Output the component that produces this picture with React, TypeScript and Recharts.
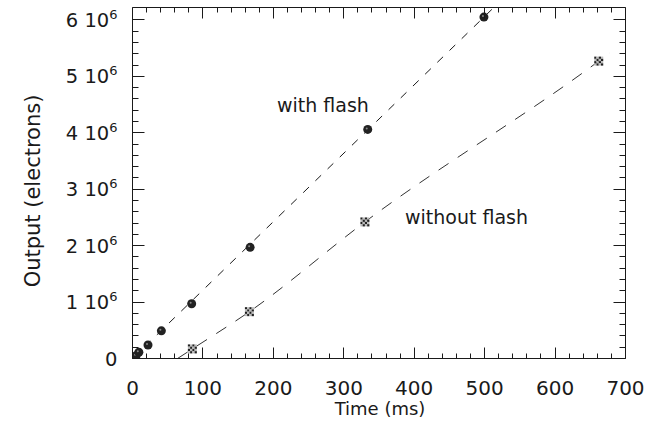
import { ComposedChart, Scatter, Line, XAxis, YAxis } from 'recharts'

// measured points, time in ms, output in electrons
const withFlashT = [2, 5, 9, 22, 41, 84, 167, 334, 499]
const withFlashE = [0.02e6, 0.05e6, 0.11e6, 0.24e6, 0.49e6, 0.97e6, 1.97e6, 4.06e6, 6.05e6]
const withoutFlashT = [85, 166, 330, 662]
const withoutFlashE = [0.17e6, 0.83e6, 2.42e6, 5.27e6]

// fitted curves
const withFitT = [0, 513]
const withFitE = [0, 6.22e6]
const withoutFitT = [64, 85, 166, 330, 662, 677]
const withoutFitE = [0, 0.17e6, 0.83e6, 2.42e6, 5.27e6, 5.41e6]

const xTicks = Array.from({ length: 36 }, (_, i) => i * 20)
const yTicks = Array.from({ length: 31 }, (_, i) => i * 0.2e6)

const zip = (t: number[], e: number[]) => t.map((v, i) => ({ t: v, e: e[i] }))
const withFlash = zip(withFlashT, withFlashE)
const withoutFlash = zip(withoutFlashT, withoutFlashE)
const withFit = zip(withFitT, withFitE)
const withoutFit = zip(withoutFitT, withoutFitE)

const FONT = '"DejaVu Sans", sans-serif'
const INK = '#1a1a1a'

const isMajorX = (v: number) => v % 100 === 0
const isMajorY = (v: number) => Math.round(v / 0.2e6) % 5 === 0
// snap to the pixel centre so 1px tick marks stay sharp
const crisp = (v: number) => Math.round(v - 0.5) + 0.5

function bottomTick(props: any) {
  const { x, y, payload } = props
  const major = isMajorX(payload.value)
  const cx = crisp(x)
  return (
    <g key={`b-${payload.value}`}>
      <path d={`M${cx},${y}V${y - (major ? 11 : 5)}`} stroke={INK} strokeWidth={1} fill="none" />
      {major && (
        <text x={x} y={y + 36} textAnchor="middle" fontSize={20} fontFamily={FONT} fill={INK}>
          {payload.value}
        </text>
      )}
    </g>
  )
}

function topTick(props: any) {
  const { x, y, payload } = props
  const major = isMajorX(payload.value)
  const cx = crisp(x)
  return (
    <path key={`t-${payload.value}`} d={`M${cx},${y}V${y + (major ? 11 : 5)}`}
      stroke={INK} strokeWidth={1} fill="none" />
  )
}

function leftTick(props: any) {
  const { x, y, payload } = props
  const v = payload.value
  const major = isMajorY(v)
  const n = Math.round(v / 1e6)
  const cy = crisp(y)
  return (
    <g key={`l-${v}`}>
      <path d={`M${x},${cy}H${x + (major ? 12 : 6)}`} stroke={INK} strokeWidth={1} fill="none" />
      {major && (
        <text x={x - 15} y={y + 7} textAnchor="end" fontSize={19.5} fontFamily={FONT} fill={INK}>
          {n === 0 ? '0' : `${n} 10`}
          {n !== 0 && <tspan fontSize={13} dy={-8}>6</tspan>}
        </text>
      )}
    </g>
  )
}

function rightTick(props: any) {
  const { x, y, payload } = props
  const major = isMajorY(payload.value)
  const cy = crisp(y)
  return (
    <path key={`r-${payload.value}`} d={`M${x},${cy}H${x - (major ? 12 : 6)}`}
      stroke={INK} strokeWidth={1} fill="none" />
  )
}

function Dot({ cx, cy }: any) {
  return (
    <g>
      <circle cx={cx} cy={cy} r={4.5} fill="#222" />
      <circle cx={cx - 1} cy={cy - 1} r={1} fill="#888" />
    </g>
  )
}

function Checker({ cx, cy }: any) {
  const cells = []
  for (let i = 0; i < 4; i++) {
    for (let j = 0; j < 4; j++) {
      cells.push(
        <rect key={`${i}-${j}`} x={cx - 4.5 + i * 2.25} y={cy - 4.5 + j * 2.25} width={2.25} height={2.25}
          fill={(i + j) % 2 === 0 ? '#222' : '#bbb'} />
      )
    }
  }
  return <g>{cells}</g>
}

export default function App() {
  return (
    <div style={{ position: 'absolute', left: 0, top: 0, background: '#fff' }}>
      <ComposedChart width={663} height={425} margin={{ top: 6.5, right: 36.5, bottom: 0, left: 0 }}>
        <XAxis dataKey="t" type="number" domain={[0, 700]} ticks={xTicks} interval={0} allowDataOverflow
          height={66.5} tickSize={0} tickMargin={0} tickLine={false} tick={bottomTick} stroke={INK} />
        <XAxis xAxisId="top" orientation="top" dataKey="t" type="number" domain={[0, 700]} allowDataOverflow
          ticks={xTicks} interval={0} height={1} tickSize={0} tickMargin={0} tickLine={false} tick={topTick} stroke={INK} />
        <YAxis dataKey="e" type="number" domain={[0, 6.22e6]} ticks={yTicks} interval={0} allowDataOverflow
          width={132.5} tickSize={0} tickMargin={0} tickLine={false} tick={leftTick} stroke={INK} />
        <YAxis yAxisId="right" orientation="right" dataKey="e" type="number" domain={[0, 6.22e6]} allowDataOverflow
          ticks={yTicks} interval={0} width={1} tickSize={0} tickMargin={0} tickLine={false} tick={rightTick} stroke={INK} />
        <Line data={withFit} dataKey="e" type="linear" dot={false} stroke={INK} strokeWidth={1}
          strokeDasharray="8 9" isAnimationActive={false} />
        <Line data={withoutFit} dataKey="e" type="monotone" dot={false} stroke="#333" strokeWidth={1}
          strokeDasharray="12 11" isAnimationActive={false} />
        <Scatter data={withFlash} dataKey="e" shape={<Dot />} isAnimationActive={false} />
        <Scatter data={withoutFlash} dataKey="e" shape={<Checker />} isAnimationActive={false} />
        <Scatter data={withFlash} dataKey="e" xAxisId="top" yAxisId="right" fill="none" legendType="none"
          isAnimationActive={false} shape={() => <g />} />
        <text x={277} y={112} fontSize={19} fontFamily={FONT} fill={INK}>with flash</text>
        <text x={405} y={224} fontSize={19} fontFamily={FONT} fill={INK}>without flash</text>
        <text x={380} y={415} textAnchor="middle" fontSize={18} fontFamily={FONT} fill={INK}>Time (ms)</text>
        <text x={40} y={191} transform="rotate(-90 40 191)" textAnchor="middle" fontSize={21}
          fontFamily={FONT} fill={INK}>Output (electrons)</text>
      </ComposedChart>
    </div>
  )
}
